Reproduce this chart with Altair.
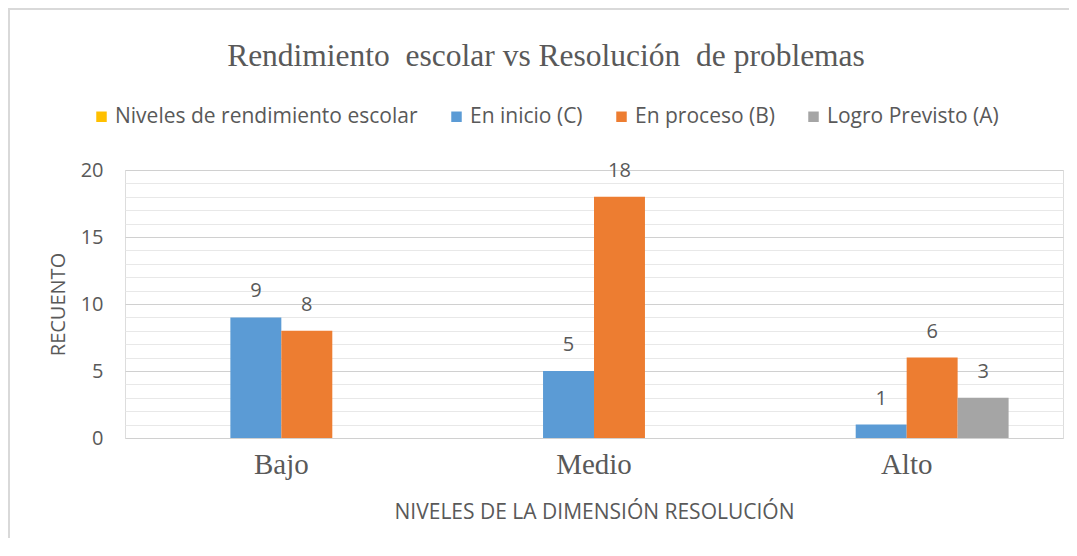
import altair as alt
import pandas as pd

categorias = ["Bajo", "Medio", "Alto"]
series = ["Niveles de rendimiento escolar", "En inicio (C)", "En proceso (B)", "Logro Previsto (A)"]
niveles_rendimiento = [None, None, None]
en_inicio = [9, 5, 1]
en_proceso = [8, 18, 6]
logro_previsto = [None, None, 3]
colores = ["#FFC000", "#5B9BD5", "#ED7D31", "#A5A5A5"]
ticks_y = list(range(0, 21))

rows = []
for s, vals in zip(series, [niveles_rendimiento, en_inicio, en_proceso, logro_previsto]):
    for c, v in zip(categorias, vals):
        rows.append({"nivel": c, "serie": s, "valor": v})
df = pd.DataFrame(rows)

SANS = "Open Sans"
SERIF = "Liberation Serif"
GRAY = "#595959"

x_enc = alt.X(
    "nivel:N",
    sort=categorias,
    scale=alt.Scale(paddingInner=0.348, paddingOuter=0.174),
    title="NIVELES DE LA DIMENSIÓN RESOLUCIÓN",
    axis=alt.Axis(
        labelAngle=0, labelFont=SERIF, labelFontSize=29, labelColor=GRAY,
        labelPadding=12, domain=False, ticks=False, grid=False,
        titleFont=SANS, titleFontSize=21, titleFontWeight="normal",
        titleColor=GRAY, titlePadding=22,
    ),
)
xoff_enc = alt.XOffset("serie:N", sort=series,
                       scale=alt.Scale(domain=series, paddingInner=0, paddingOuter=0))
y_enc = alt.Y(
    "valor:Q",
    scale=alt.Scale(domain=[0, 20], nice=False),
    title="RECUENTO",
    axis=alt.Axis(
        values=ticks_y,
        labelExpr="datum.value % 5 === 0 ? datum.label : ''",
        gridColor={"condition": {"test": "datum.value % 5 === 0", "value": "#d0d0d0"},
                   "value": "#e8e8e8"},
        gridWidth=1.2,
        domain=False, ticks=False,
        labelFont=SANS, labelFontSize=20, labelColor=GRAY, labelPadding=22,
        titleFont=SANS, titleFontSize=20, titleFontWeight="normal",
        titleColor=GRAY, titlePadding=12,
    ),
)

bars = alt.Chart(df).mark_bar().encode(
    x=x_enc,
    xOffset=xoff_enc,
    y=y_enc,
    color=alt.Color(
        "serie:N",
        sort=series,
        scale=alt.Scale(domain=series, range=colores),
        legend=alt.Legend(
            title=None, orient="none", direction="horizontal",
            legendX=-34, legendY=-64,
            symbolType="square", symbolSize=110, symbolStrokeWidth=0,
            labelFont=SANS, labelFontSize=21, labelColor=GRAY,
            labelLimit=500, columnPadding=28, labelOffset=3,
        ),
    ),
)

labels = alt.Chart(df).transform_filter("datum.valor != null").mark_text(
    baseline="alphabetic", dy=-20, font=SANS, fontSize=20, color=GRAY
).encode(
    x=x_enc,
    xOffset=xoff_enc,
    y=y_enc,
    text=alt.Text("valor:Q"),
)

frame_df = pd.DataFrame({"k": [0]})
frame_top = alt.Chart(frame_df).mark_rule(color="#d9d9d9", strokeWidth=2).encode(
    x=alt.value(-117), x2=alt.value(960), y=alt.value(-161)
)
frame_left = alt.Chart(frame_df).mark_rule(color="#d9d9d9", strokeWidth=2).encode(
    x=alt.value(-116), y=alt.value(-161), y2=alt.value(400)
)

chart = alt.layer(frame_top, frame_left, bars, labels).properties(
    width=938,
    height=268,
    autosize=alt.AutoSizeParams(type="none"),
    padding={"left": 117, "top": 162, "right": 6, "bottom": 100},
    title=alt.TitleParams(
        "Rendimiento\u00a0 escolar vs Resolución\u00a0 de problemas",
        font=SERIF, fontSize=31.5, color=GRAY, fontWeight="normal",
        anchor="middle", dx=-48, offset=-64,
    ),
).configure_view(stroke=None).configure(background="white")

chart.save("out.html", embed_options={"renderer": "svg", "actions": False})
